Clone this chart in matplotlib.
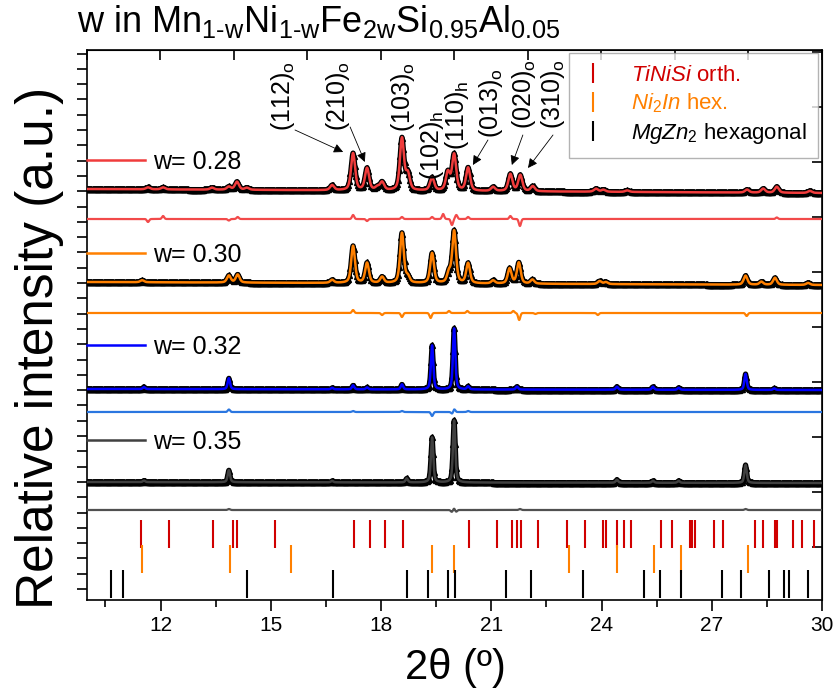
import numpy as np
import matplotlib.pyplot as plt
from matplotlib.lines import Line2D

plt.rcParams['font.family'] = ['Liberation Sans', 'DejaVu Sans']
plt.rcParams['mathtext.fontset'] = 'custom'
plt.rcParams['mathtext.rm'] = 'Liberation Sans'
plt.rcParams['mathtext.it'] = 'Liberation Sans:italic'
plt.rcParams['mathtext.bf'] = 'Liberation Sans:bold'

# --- data ----------------------------------------------------------------
# peaks as (2theta, height above background), heights in axis units
peaks_028 = [(11.66, 2), (12.07, 2), (13.40, 2), (13.86, 3), (14.08, 8), (14.35, 2),
             (16.67, 5), (17.24, 37), (17.62, 22), (17.90, 3), (18.03, 8), (18.57, 52),
             (18.73, 16), (19.39, 13), (19.82, 18), (19.99, 36), (20.37, 23), (21.05, 4),
             (21.52, 17), (21.79, 16), (22.13, 5), (23.85, 3), (24.05, 2), (24.70, 1.5),
             (27.96, 3), (28.40, 4), (28.77, 6), (29.67, 2)]
peaks_030 = [(11.50, 2), (13.86, 7), (14.10, 8), (16.67, 3), (17.24, 37), (17.62, 20),
             (18.03, 6), (18.57, 50), (18.73, 6), (19.39, 30), (19.85, 10), (19.99, 52),
             (20.37, 20), (21.05, 3), (21.50, 15), (21.75, 21), (22.12, 4), (23.95, 3),
             (24.12, 2), (27.92, 9), (28.35, 3), (28.72, 7), (29.62, 2)]
peaks_032 = [(11.55, 2), (13.86, 11), (16.67, 1.5), (17.24, 4), (17.62, 2), (18.57, 5),
             (19.39, 44), (19.99, 61), (20.37, 3), (21.70, 3), (24.42, 3), (25.40, 3),
             (26.10, 2), (27.92, 16), (28.70, 1.5)]
peaks_035 = [(11.55, 1.5), (13.86, 12), (16.67, 1.5), (18.70, 4), (19.39, 45), (19.99, 62),
             (24.42, 3), (25.40, 2), (26.10, 2), (27.92, 18)]

# difference curves: (2theta, amplitude)
diff_028 = [(11.66, -3), (12.07, 3), (13.86, -1.5), (14.10, 2), (17.24, 4), (17.62, -2),
            (18.57, 2), (19.39, 2), (19.69, 5), (19.93, -6), (20.05, 4), (20.37, 2),
            (21.52, 3), (21.78, -7), (28.77, 1.5)]
diff_030 = [(17.24, 3), (18.03, -2), (18.57, -4), (19.35, -5), (19.85, 2), (20.35, 2),
            (21.60, 2), (21.76, -7), (22.20, -1), (23.90, -2), (27.95, -3)]
diff_032 = [(13.86, 2.5), (17.24, 1), (18.57, 1), (19.39, -4), (19.94, -2), (19.99, 3),
            (20.37, 1)]
diff_035 = [(13.86, 1), (19.93, -2), (19.99, 2), (20.04, -2), (21.78, 1), (27.92, 1)]

w_values = [0.28, 0.30, 0.32, 0.35]
bg_left = [411, 318, 211, 118]
bg_right = [407, 315, 210, 117]
diff_level = [381, 287, 188, 90]
fwhm = [0.13, 0.12, 0.075, 0.075]
calc_colors = ['#f03c3c', '#ff8000', '#0000ff', '#404040']
diff_colors = ['#f24a4a', '#ff8000', '#2a76e0', '#505050']

# Bragg reflection positions
tinisi = [11.47, 12.23, 13.44, 13.98, 14.09, 15.12, 17.27, 17.70, 18.12, 18.61,
          20.39, 21.15, 21.56, 21.71, 21.82, 22.26, 23.05, 23.55, 24.03, 24.12,
          24.41, 24.61, 24.80, 25.61, 25.91, 26.41, 26.47, 26.54, 27.06, 27.31,
          28.17, 28.40, 28.72, 28.78, 29.22, 29.46, 29.79]
ni2in = [11.49, 13.89, 15.55, 19.38, 19.98, 23.12, 24.41, 25.42, 26.16, 27.99]
mgzn2 = [10.65, 10.99, 14.36, 16.69, 18.70, 19.29, 19.83, 20.01, 21.40, 22.07,
         23.51, 25.16, 25.59, 26.16, 27.27, 27.80, 28.57, 28.97, 29.10, 29.61]

phase_labels = [r'$\mathit{TiNiSi}$ orth.', r'$\mathit{Ni_{\mathregular{2}}In}$ hex.',
                r'$\mathit{MgZn_{\mathregular{2}}}$ hexagonal']
phase_colors = ['#d00000', '#ff8000', '#000000']

hkl_labels = [r'(112)$_\mathregular{o}$', r'(210)$_\mathregular{o}$', r'(103)$_\mathregular{o}$',
              r'(102)$_\mathregular{h}$', r'(110)$_\mathregular{h}$', r'(013)$_\mathregular{o}$',
              r'(020)$_\mathregular{o}$', r'(310)$_\mathregular{o}$']


def profile(x, peaks, width, eta=0.5):
    y = np.zeros_like(x)
    for pos, h in peaks:
        d = (x - pos) / (width / 2)
        y += h * (eta / (1 + d ** 2) + (1 - eta) * np.exp(-np.log(2) * d ** 2))
    return y


x = np.linspace(10, 30, 4001)

fig = plt.figure(figsize=(8.35, 6.93), dpi=100)
ax = fig.add_axes([87 / 835, 1 - 600 / 693, 735 / 835, 550 / 693])

all_peaks = [peaks_028, peaks_030, peaks_032, peaks_035]
all_diff = [diff_028, diff_030, diff_032, diff_035]
for i in range(4):
    bg = np.linspace(bg_left[i], bg_right[i], x.size)
    y = bg + profile(x, all_peaks[i], fwhm[i])
    ax.plot(x, y, color='k', lw=3.6, marker='^', ms=3.8, markevery=6, zorder=2)
    ax.plot(x, y, color=calc_colors[i], lw=1.8, zorder=3)
    d = diff_level[i] + profile(x, all_diff[i], 0.07, eta=0.0)
    ax.plot(x, d, color=diff_colors[i], lw=1.6, zorder=3)

# Bragg ticks
ax.vlines(tinisi, 52, 80, color=phase_colors[0], lw=1.5)
ax.vlines(ni2in, 27, 55, color=phase_colors[1], lw=1.5)
ax.vlines(mgzn2, 2, 30, color=phase_colors[2], lw=1.5)

# hkl labels (text centre) and arrows (start, tip)
hkl_text = [(15.33, 504), (16.83, 504), (18.60, 503), (19.39, 455), (20.07, 485),
            (21.00, 497), (21.89, 506), (22.68, 506)]
for lab, (tx, ty) in zip(hkl_labels, hkl_text):
    ax.text(tx, ty, lab, rotation=90, ha='center', va='center', fontsize=18)
hkl_arrows = [((15.66, 470), (16.97, 448)), ((17.16, 473), (17.56, 438)),
              ((20.91, 460), (20.50, 435)), ((21.86, 465), (21.56, 435)),
              ((22.68, 465), (22.00, 432))]
for start, tip in hkl_arrows:
    ax.annotate('', xy=tip, xytext=start,
                arrowprops=dict(arrowstyle='-|>', color='k', lw=0.6, mutation_scale=14,
                                shrinkA=0, shrinkB=0))

# sample legends
leg_y = [0.796, 0.627, 0.46, 0.287]
for w, col, ly in zip(w_values, calc_colors, leg_y):
    leg = ax.legend([Line2D([], [], color=col, lw=1.8)], [f'w= {w:.2f}'],
                    loc='center left', bbox_to_anchor=(0, ly), frameon=False, fontsize=18,
                    handlelength=2.3, handletextpad=0.35, borderpad=0, borderaxespad=0)
    ax.add_artist(leg)

phase_handles = [Line2D([], [], color=c, marker='|', ls='none', ms=14, mew=1.5)
                 for c in phase_colors]
leg = ax.legend(phase_handles, phase_labels, loc='upper right', bbox_to_anchor=(0.995, 0.995),
                fontsize=16, frameon=True, fancybox=False, edgecolor='#a0a0a0',
                handlelength=1.0, handletextpad=1.2, labelspacing=0.25, borderpad=0.55,
                borderaxespad=0)
leg.get_frame().set_linewidth(1.0)
for t, c in zip(leg.get_texts(), phase_colors):
    t.set_color(c)

ax.set_xlim(10, 30)
ax.set_ylim(0, 550)
ax.set_xticks(np.arange(12, 31, 3))
ax.set_xticks(np.arange(10.5, 30, 3), minor=True)
ax.tick_params(axis='x', which='major', direction='out', length=8, width=1.2, labelsize=15)
ax.tick_params(axis='x', which='minor', direction='out', length=5, width=1.2)
ax.set_yticks(np.arange(11, 550, 15.3))
ax.tick_params(axis='y', direction='out', length=7, width=1.2, labelleft=False)
for s in ax.spines.values():
    s.set_linewidth(1.2)

top = ax.secondary_xaxis('top')
top.set_xticks(np.arange(10, 31, 2))
top.tick_params(direction='in', length=7, width=1.2, labeltop=False)
right = ax.secondary_yaxis('right')
right.set_yticks(np.arange(53, 550, 55))
right.tick_params(direction='in', length=7, width=1.2, labelright=False)

fig.text(77 / 835, 1 - 22 / 693,
         r'w in Mn$_\text{1-w}$Ni$_\text{1-w}$Fe$_\text{2w}$'
         r'Si$_\text{0.95}$Al$_\text{0.05}$',
         fontsize=26, ha='left', va='center')
fig.text(40 / 835, 1 - 348 / 693, 'Relative intensity (a.u.)', rotation=90,
         fontsize=37, ha='center', va='center')
fig.text(455 / 835, 1 - 668 / 693, '2θ (º)', fontsize=30, ha='center', va='center')

fig.savefig('out.png', dpi=100)
